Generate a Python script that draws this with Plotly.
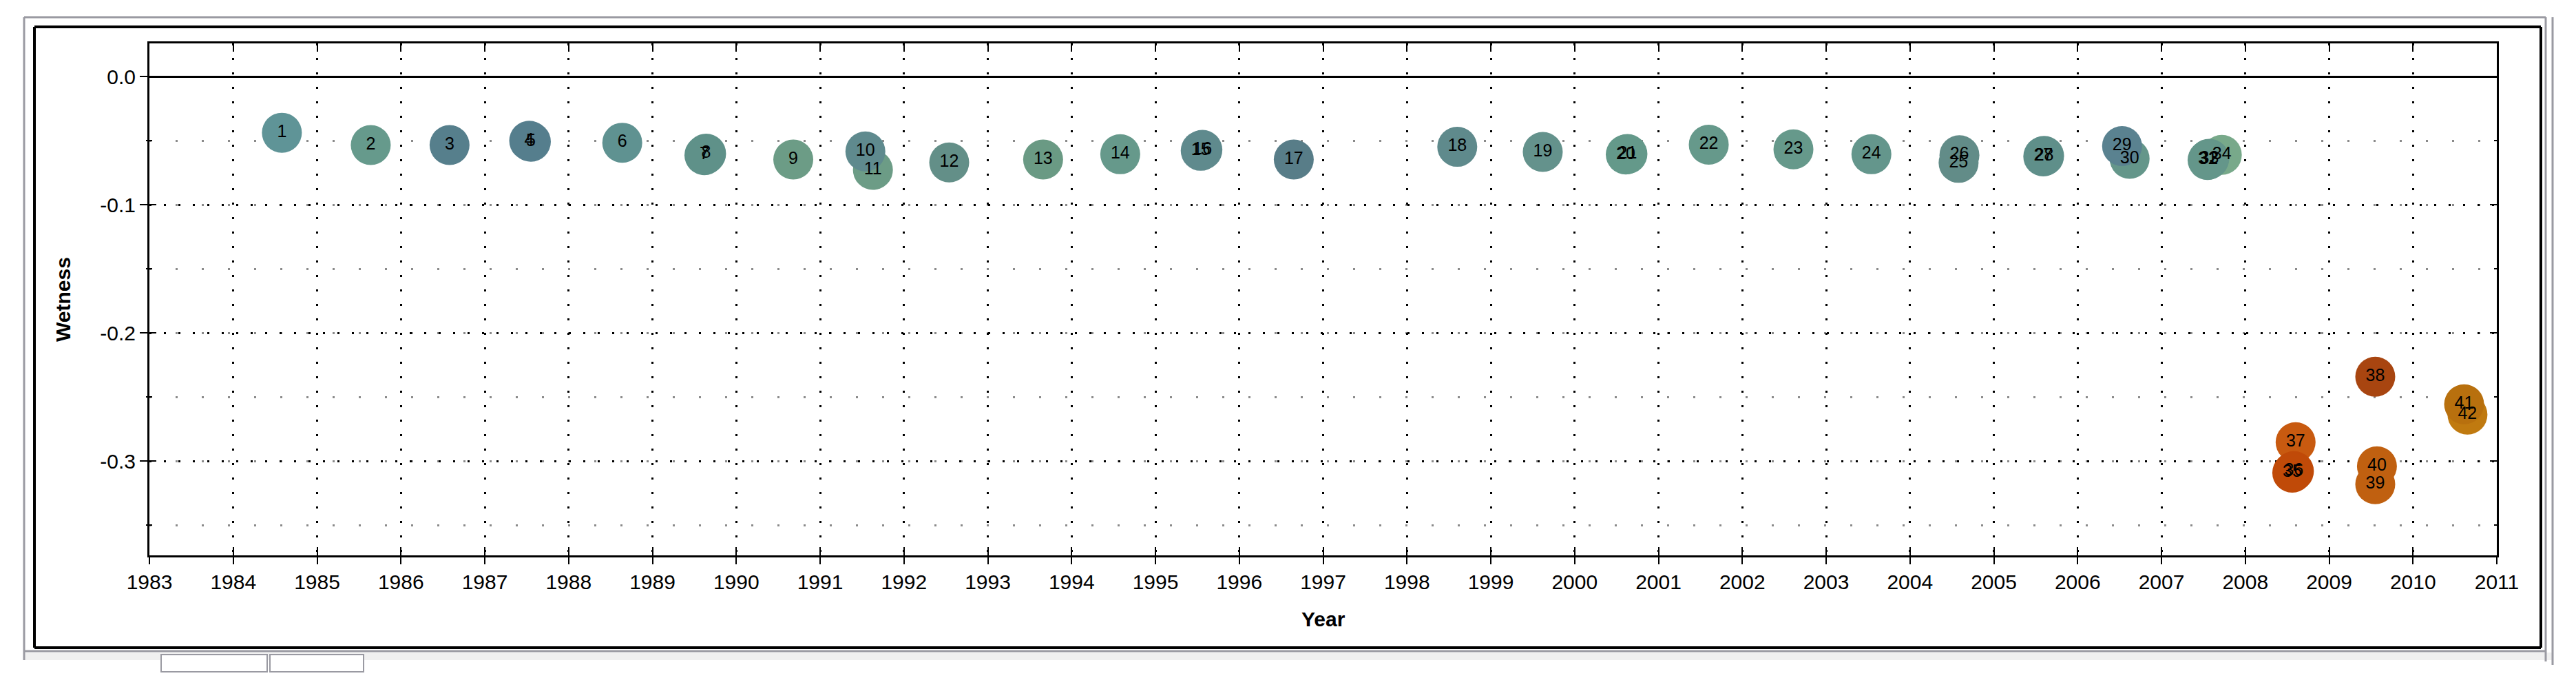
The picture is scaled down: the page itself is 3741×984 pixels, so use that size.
import plotly.graph_objects as go

# ---------------- data ----------------
labels = [str(i) for i in range(1, 43)]
years = [1984.58, 1985.64, 1986.58, 1987.53, 1987.55, 1988.64, 1989.62, 1989.64, 1990.68, 1991.54,
         1991.63, 1992.54, 1993.66, 1994.58, 1995.54, 1995.56, 1996.65, 1998.60, 1999.62, 2000.61,
         2000.63, 2001.60, 2002.61, 2003.54, 2004.58, 2004.59, 2005.59, 2005.60, 2006.53, 2006.62,
         2007.55, 2007.56, 2007.57, 2007.72, 2008.56, 2008.58, 2008.60, 2009.55, 2009.55, 2009.57,
         2010.61, 2010.65]
wetness = [-0.0437, -0.0533, -0.0533, -0.0500, -0.0507, -0.0515, -0.0612, -0.0600, -0.0646, -0.0583,
           -0.0727, -0.0669, -0.0646, -0.0605, -0.0578, -0.0571, -0.0646, -0.0547, -0.0587, -0.0607,
           -0.0603, -0.0530, -0.0567, -0.0605, -0.0672, -0.0612, -0.0622, -0.0618, -0.0541, -0.0640,
           -0.0650, -0.0646, -0.0640, -0.0610, -0.3090, -0.3078, -0.2852, -0.2341, -0.3180, -0.3040,
           -0.2556, -0.2637]
colors = ["#5f9497", "#669a8c", "#567f8c", "#557e8d", "#567f8e", "#5f9291", "#5f9189", "#5f9189",
          "#6c9c86", "#5f8a8e", "#6c9c86", "#638f88", "#6a9a84", "#66998b", "#5f8a8d", "#5f8a8d",
          "#587d88", "#5f8a8c", "#64928c", "#64998a", "#64998a", "#66998b", "#66998b", "#64968c",
          "#628c88", "#628c88", "#5f8f8a", "#5f8f8a", "#5a8290", "#64968a", "#64968a", "#64968a",
          "#64968a", "#78a98a", "#c04a08", "#c04a08", "#c85a10", "#a84510", "#c06010", "#c06010",
          "#b8700e", "#c07a10"]

x_ticks = list(range(1983, 2012))
x_ticktext = [str(v) for v in x_ticks]
y_ticks = [-0.3, -0.2, -0.1, 0.0]
y_ticktext = ["-0.3", "-0.2", "-0.1", "0.0"]
x_title = "Year"
y_title = "Wetness"

# ---------------- geometry ----------------
W, H = 3741, 984
L, R, T, B = 217, 3626, 63, 806
FONT = "Liberation Sans, Arial, sans-serif"


def px(x):
    return (x - L) / (R - L)


def py(y):
    return (B - y) / (B - T)


# draw in reverse order so lower numbers sit on top
order = list(range(len(labels)))[::-1]

fig = go.Figure()
fig.add_trace(go.Scatter(
    x=[years[i] for i in order],
    y=[wetness[i] for i in order],
    text=[labels[i] for i in order],
    mode="markers+text",
    textposition="middle center",
    textfont=dict(family=FONT, size=25, color="black"),
    marker=dict(size=58, color=[colors[i] for i in order], line=dict(width=0), opacity=1),
    hoverinfo="skip",
    showlegend=False,
))
# empty trace to activate overlay axes (outside ticks + labels)
fig.add_trace(go.Scatter(x=[], y=[], xaxis="x2", yaxis="y2", showlegend=False, hoverinfo="skip"))

xr = [1983, 2011]
yr = [-0.3735, 0.026]

fig.update_layout(
    width=W, height=H,
    margin=dict(l=L, r=W - R, t=T, b=H - B, pad=0),
    paper_bgcolor="white", plot_bgcolor="white",
    xaxis=dict(
        range=xr, tickvals=x_ticks, showticklabels=False,
        ticks="inside", ticklen=12, tickwidth=2, tickcolor="black",
        showline=True, linewidth=3, linecolor="black", mirror="ticks",
        showgrid=True, gridcolor="black", gridwidth=3, griddash="3px,18px",
        zeroline=False,
    ),
    xaxis2=dict(
        range=xr, overlaying="x", anchor="y", side="bottom",
        tickvals=x_ticks, ticktext=x_ticktext,
        ticks="outside", ticklen=12, tickwidth=2, tickcolor="black",
        tickfont=dict(family=FONT, size=30, color="black"),
        showline=False, showgrid=False, zeroline=False,
    ),
    yaxis=dict(
        range=yr, tickvals=y_ticks, showticklabels=False,
        ticks="inside", ticklen=10, tickwidth=2, tickcolor="black",
        showline=True, linewidth=3, linecolor="black", mirror="ticks",
        showgrid=True, gridcolor="black", gridwidth=3, griddash="3px,18px",
        zeroline=True, zerolinecolor="black", zerolinewidth=3,
        minor=dict(tick0=0, dtick=0.05, ticks="inside", ticklen=4, tickwidth=2,
                   tickcolor="black", showgrid=True, gridcolor="#8a8a8a", gridwidth=3,
                   griddash="3px,35px"),
    ),
    yaxis2=dict(
        range=yr, overlaying="y", anchor="x", side="left",
        tickvals=y_ticks, ticktext=y_ticktext,
        ticks="outside", ticklen=13, tickwidth=2, tickcolor="black",
        tickfont=dict(family=FONT, size=30, color="black"),
        minor=dict(tick0=0, dtick=0.05, ticks="outside", ticklen=4, tickwidth=2, tickcolor="black"),
        showline=False, showgrid=False, zeroline=False,
    ),
)

# axis titles
fig.add_annotation(x=px(92), y=py(435), xref="paper", yref="paper", text="<b>" + y_title + "</b>",
                   textangle=-90, showarrow=False, xanchor="center", yanchor="middle",
                   font=dict(family=FONT, size=30, color="black"))
fig.add_annotation(x=px(1922), y=py(898), xref="paper", yref="paper", text="<b>" + x_title + "</b>",
                   showarrow=False, xanchor="center", yanchor="middle",
                   font=dict(family=FONT, size=30, color="black"))

# window frame decoration
def rect(x0, y0, x1, y1, color=None, width=0, fill=None):
    fig.add_shape(type="rect", xref="paper", yref="paper",
                  x0=px(x0), x1=px(x1), y0=py(y1), y1=py(y0),
                  line=dict(color=color or "rgba(0,0,0,0)", width=width),
                  fillcolor=fill or "rgba(0,0,0,0)", layer="below")

def line(x0, y0, x1, y1, color, width):
    fig.add_shape(type="line", xref="paper", yref="paper",
                  x0=px(x0), x1=px(x1), y0=py(y0), y1=py(y1),
                  line=dict(color=color, width=width), layer="above")

rect(35, 947, 3708, 958, fill="#f0f0f0")
rect(234, 950, 388, 975, color="#9a9aa2", width=2, fill="white")
rect(392, 950, 528, 975, color="#9a9aa2", width=2, fill="white")
line(35, 25, 3697, 25, "#9a9aa2", 3)
line(35, 25, 35, 958, "#9a9aa2", 3)
line(35, 945, 3697, 945, "#9a9aa2", 3)
line(3697, 25, 3697, 960, "#9a9aa2", 3)
line(3707, 25, 3707, 965, "#9a9aa2", 3)
line(50, 39, 3690, 39, "black", 4)
line(50, 39, 50, 940, "black", 4)
line(50, 940, 3690, 940, "black", 4)
line(3690, 39, 3690, 940, "black", 4)

fig.write_html("out.html", include_plotlyjs=True, full_html=True,
               config={"displayModeBar": False},
               post_script="document.body.style.margin='0';")
